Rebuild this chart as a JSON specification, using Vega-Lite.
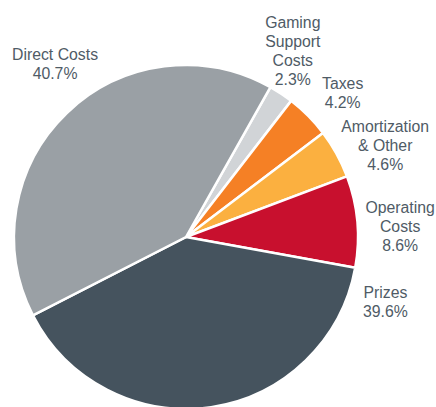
{
  "$schema": "https://vega.github.io/schema/vega-lite/v6.json",
  "width": 372,
  "height": 474,
  "autosize": "none",
  "padding": {"left": 0, "top": 0, "right": 64, "bottom": 0},
  "background": "white",
  "config": {
    "view": {"stroke": null},
    "text": {"align": "center", "baseline": "middle", "lineBreak": "\n", "lineHeight": 19, "font": "Liberation Sans", "fontSize": 15.8, "color": "#4f5b66"}
  },
  "data": {
    "values": [
      {"category": "Gaming Support Costs", "share": 2.3, "label": "Gaming\nSupport\nCosts\n2.3%"},
      {"category": "Taxes", "share": 4.2, "label": "Taxes\n4.2%"},
      {"category": "Amortization & Other", "share": 4.6, "label": "Amortization\n& Other\n4.6%"},
      {"category": "Operating Costs", "share": 8.6, "label": "Operating\nCosts\n8.6%"},
      {"category": "Prizes", "share": 39.6, "label": "Prizes\n39.6%"},
      {"category": "Direct Costs", "share": 40.7, "label": "Direct Costs\n40.7%"}
    ]
  },
  "encoding": {
    "theta": {"field": "share", "type": "quantitative", "stack": true, "scale": {"range": [0.5131, 6.7963]}},
    "order": {"field": "share", "type": "quantitative", "sort": "ascending"}
  },
  "layer": [
    {
      "mark": {"type": "arc", "outerRadius": 172, "stroke": "white", "strokeWidth": 2.5},
      "encoding": {
        "color": {
          "field": "category",
          "type": "nominal",
          "scale": {
            "domain": ["Gaming Support Costs", "Taxes", "Amortization & Other", "Operating Costs", "Prizes", "Direct Costs"],
            "range": ["#d1d4d7", "#f58025", "#fbb040", "#c8102e", "#45535e", "#9aa0a5"]
          },
          "legend": null
        }
      }
    },
    {
      "mark": {"type": "text", "radius": 215, "dx": -12, "dy": -35},
      "encoding": {"text": {"condition": {"test": "datum.category !== 'Gaming Support Costs'", "value": ""}, "field": "label"}}
    },
    {
      "mark": {"type": "text", "radius": 215, "dx": 4, "dy": -2},
      "encoding": {"text": {"condition": {"test": "datum.category !== 'Taxes'", "value": ""}, "field": "label"}}
    },
    {
      "mark": {"type": "text", "radius": 215, "dx": 11, "dy": -6},
      "encoding": {"text": {"condition": {"test": "datum.category !== 'Amortization & Other'", "value": ""}, "field": "label"}}
    },
    {
      "mark": {"type": "text", "radius": 215, "dx": 0, "dy": -10},
      "encoding": {"text": {"condition": {"test": "datum.category !== 'Operating Costs'", "value": ""}, "field": "label"}}
    },
    {
      "mark": {"type": "text", "radius": 215, "dx": 168, "dy": -157},
      "encoding": {"text": {"condition": {"test": "datum.category !== 'Prizes'", "value": ""}, "field": "label"}}
    },
    {
      "mark": {"type": "text", "radius": 215, "dx": 18, "dy": -27},
      "encoding": {"text": {"condition": {"test": "datum.category !== 'Direct Costs'", "value": ""}, "field": "label"}}
    }
  ]
}
